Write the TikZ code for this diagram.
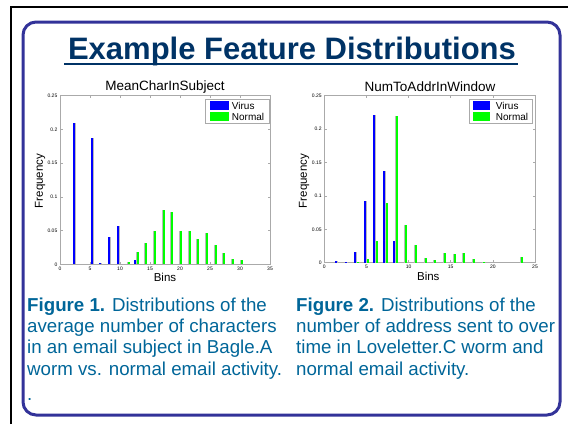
\documentclass[tikz,border=0pt]{standalone}
\usepackage{fontspec}
\setmainfont{Liberation Sans}
\definecolor{frameblue}{RGB}{51,51,153}
\definecolor{titlenavy}{RGB}{0,51,102}
\definecolor{capblue}{RGB}{0,102,153}
\definecolor{axisgray}{RGB}{170,170,170}
\definecolor{virusblue}{RGB}{0,0,255}
\definecolor{normalgreen}{RGB}{0,255,0}
\begin{document}
\begin{tikzpicture}[x=1pt,y=-1pt,
  outerframe/.style={draw=black,line width=1.6pt},
  framebox/.style={draw=frameblue,line width=3pt,rounded corners=13pt},
  axisbox/.style={draw=axisgray,line width=0.7pt},
  axtick/.style={draw=axisgray,line width=0.5pt},
  ticklbl/.style={font=\fontsize{5}{6}\selectfont,inner sep=0pt},
  plottitle/.style={font=\fontsize{13.5}{15}\selectfont,inner sep=0pt},
  axlabel/.style={font=\fontsize{11.5}{13}\selectfont,inner sep=0pt},
  legtext/.style={font=\fontsize{10}{11}\selectfont,inner sep=0pt,anchor=west},
  legbox/.style={draw=axisgray,fill=white,line width=0.6pt},
  virusbar/.style={fill=virusblue},
  normalbar/.style={fill=normalgreen},
  baredge/.style={draw=gray!55,line width=0.7pt},
  caption/.style={font=\fontsize{18.7}{22}\selectfont,text=capblue,inner sep=0pt,anchor=base west}]
\useasboundingbox (0,0) rectangle (568,424);
\fill[white] (0,0) rectangle (568,424);
% outer black frame
\draw[outerframe] (11,424) -- (11,7) -- (568,7);
% blue rounded frame
\draw[framebox] (23,22) rectangle (560,415);
% title
\node[font=\bfseries\fontsize{31}{34}\selectfont,text=titlenavy,inner sep=0pt,anchor=base] (title) at (292,59) {Example Feature Distributions};
\draw[titlenavy,line width=2pt] (64,64) -- (518,64);

% ================= Plot 1 =================
\node[plottitle] (t1) at (165,87) {MeanCharInSubject};
\draw[axisbox] (60,95.7) rectangle (270,264.3);
\foreach \k/\lab in {0/0,1/0.05,2/0.1,3/0.15,4/0.2,5/0.25} {
  \draw[axtick] (60,264.3-\k*33.72) -- (62.5,264.3-\k*33.72);
  \draw[axtick] (270,264.3-\k*33.72) -- (267.5,264.3-\k*33.72);
  \node[ticklbl,anchor=east] (y1\k) at (57.5,264.3-\k*33.72) {\lab};
}
\foreach \k/\lab in {0/0,1/5,2/10,3/15,4/20,5/25,6/30,7/35} {
  \draw[axtick] (60+\k*30,264.3) -- (60+\k*30,261.8);
  \draw[axtick] (60+\k*30,95.7) -- (60+\k*30,98.2);
  \node[ticklbl,anchor=north] (x1\k) at (60+\k*30,266.5) {\lab};
}
\foreach \x/\h in {74.3/0.210,91.7/0.187,100.3/0.002,109/0.041,117.7/0.057,135/0.007} {
  \fill[virusbar] (\x-1.1,264.3) rectangle (\x+1.1,264.3-\h*674.4);
  \draw[baredge] (\x+1.5,264.3) -- (\x+1.5,264.3-\h*674.4);
}
\foreach \x/\h in {129/0.004,137.7/0.018,146.3/0.032,155/0.049,163.7/0.081,172.3/0.078,181/0.049,189.7/0.050,198.3/0.038,207/0.046,215.7/0.029,224.3/0.017,233/0.008,241.7/0.007} {
  \fill[normalbar] (\x-1.1,264.3) rectangle (\x+1.1,264.3-\h*674.4);
  \draw[baredge] (\x-1.5,264.3) -- (\x-1.5,264.3-\h*674.4);
}
\node[axlabel,rotate=90] (f1) at (40,181) {Frequency};
\node[axlabel] (b1) at (165,277.7) {Bins};
\draw[legbox] (205.7,99) rectangle (269,123.3);
\fill[virusblue] (210,101.3) rectangle (229,110);
\fill[normalgreen] (210,112.3) rectangle (229,120.7);
\node[legtext] (lv1) at (231.7,105.7) {Virus};
\node[legtext] (ln1) at (231.7,116.7) {Normal};

% ================= Plot 2 =================
\node[plottitle] (t2) at (430,87) {NumToAddrInWindow};
\draw[axisbox] (324.3,95.7) rectangle (535,262.7);
\foreach \k/\lab in {0/0,1/0.05,2/0.1,3/0.15,4/0.2,5/0.25} {
  \draw[axtick] (324.3,262.7-\k*33.4) -- (326.8,262.7-\k*33.4);
  \draw[axtick] (535,262.7-\k*33.4) -- (532.5,262.7-\k*33.4);
  \node[ticklbl,anchor=east] (y2\k) at (321.8,262.7-\k*33.4) {\lab};
}
\foreach \k/\lab in {0/0,1/5,2/10,3/15,4/20,5/25} {
  \draw[axtick] (324.3+\k*42.14,262.7) -- (324.3+\k*42.14,260.2);
  \draw[axtick] (324.3+\k*42.14,95.7) -- (324.3+\k*42.14,98.2);
  \node[ticklbl,anchor=north] (x2\k) at (324.3+\k*42.14,264.9) {\lab};
}
\foreach \x/\h in {336/0.002,345.7/0.001,355.3/0.016,364.7/0.092,374.3/0.221,384/0.137,394/0.033} {
  \fill[virusbar] (\x-1.1,262.7) rectangle (\x+1.1,262.7-\h*668);
  \draw[baredge] (\x+1.5,262.7) -- (\x+1.5,262.7-\h*668);
}
\foreach \x/\h in {358.3/0.001,367.7/0.006,377.3/0.033,387/0.089,396.7/0.219,406.3/0.057,416/0.027,425.7/0.007,435.3/0.004,445/0.015,454.7/0.013,464.3/0.014,474/0.006,483.7/0.001,522.3/0.009} {
  \fill[normalbar] (\x-1.1,262.7) rectangle (\x+1.1,262.7-\h*668);
  \draw[baredge] (\x-1.5,262.7) -- (\x-1.5,262.7-\h*668);
}
\node[axlabel,rotate=90] (f2) at (304,181) {Frequency};
\node[axlabel] (b2) at (428.3,276.7) {Bins};
\draw[legbox] (469,99) rectangle (532.3,123.3);
\fill[virusblue] (473.3,101.3) rectangle (490,110);
\fill[normalgreen] (473.3,112.3) rectangle (490,120.7);
\node[legtext] (lv2) at (495.7,105.7) {Virus};
\node[legtext] (ln2) at (495.7,116.7) {Normal};

% ================= Captions =================
\node[caption] (c1a) at (27,311) {\textbf{Figure 1.} Distributions of the};
\node[caption] (c1b) at (27,332.3) {average number of characters};
\node[caption] (c1c) at (27,353.6) {in an email subject in Bagle.A};
\node[caption] (c1d) at (27,375) {worm vs. normal email activity.};
\node[caption] (c1e) at (27,400.5) {.};
\node[caption] (c2a) at (296,311) {\textbf{Figure 2.} Distributions of the};
\node[caption] (c2b) at (296,332.3) {number of address sent to over};
\node[caption] (c2c) at (296,353.6) {time in Loveletter.C worm and};
\node[caption] (c2d) at (296,375) {normal email activity.};
\end{tikzpicture}
\end{document}
